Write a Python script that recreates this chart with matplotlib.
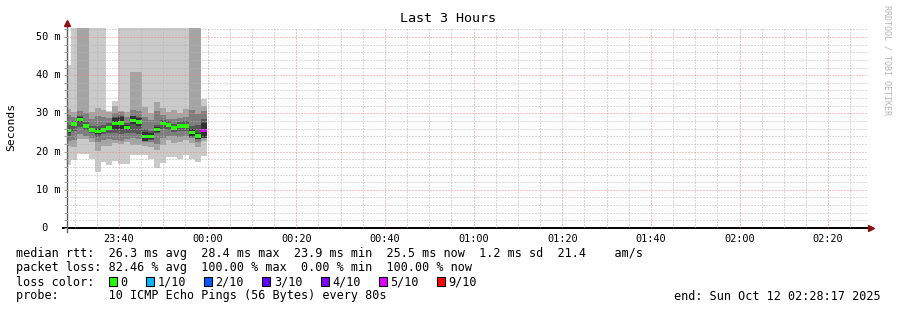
import matplotlib.pyplot as plt
import matplotlib.dates as mdates
import numpy as np
import pandas as pd

# smokeping graph: 10 pings per 80 s step, sorted lowest (p0) to highest (p9), in ms
p0 = [16.5, 17.8, 19.4, 19.4, 18.0, 14.7, 17.2, 16.6, 17.6, 16.8, 16.8, 19.1,
      19.1, 19.1, 18.1, 15.8, 17.1, 18.7, 18.5, 18.1, 19.2, 18.0, 17.3, 18.9]
p1 = [21.5, 21.3, 23.2, 23.2, 22.6, 20.2, 21.5, 21.5, 22.2, 22.0, 22.4, 21.8,
      21.8, 21.5, 21.3, 20.5, 21.8, 23.1, 22.2, 22.4, 23.1, 22.2, 21.3, 22.8]
p2 = [22.8, 23.0, 24.5, 24.2, 23.5, 22.5, 23.0, 23.2, 23.0, 22.8, 23.3, 23.5,
      23.2, 22.5, 22.4, 22.0, 23.5, 24.2, 24.0, 23.8, 24.2, 23.5, 22.5, 24.0]
p3 = [24.0, 25.5, 26.5, 25.6, 25.0, 23.8, 24.5, 24.8, 24.8, 24.5, 25.0, 25.0,
      24.5, 23.0, 23.0, 24.8, 25.8, 25.6, 25.2, 25.4, 25.3, 23.8, 23.2, 24.0]
p4 = [25.0, 26.6, 27.8, 26.2, 25.4, 24.6, 25.2, 25.6, 26.0, 26.0, 25.6, 27.2,
      26.6, 22.8, 23.2, 25.1, 27.0, 26.5, 25.8, 26.2, 26.2, 24.2, 23.4, 23.5]
p5 = [26.0, 27.8, 29.0, 27.2, 26.0, 25.8, 26.2, 26.8, 28.8, 29.0, 27.0, 29.2,
      28.8, 25.2, 24.8, 26.5, 27.8, 27.5, 26.6, 27.2, 27.2, 25.8, 24.8, 27.5]
p6 = [27.0, 28.0, 29.4, 27.8, 26.8, 26.8, 27.0, 27.5, 29.0, 29.3, 27.5, 29.4,
      29.0, 26.0, 25.5, 27.0, 28.4, 28.0, 27.2, 27.8, 28.0, 26.6, 27.0, 28.5]
p7 = [29.5, 29.0, 30.5, 30.0, 28.6, 29.2, 29.0, 28.8, 30.0, 30.3, 29.0, 31.0,
      30.5, 29.0, 28.2, 30.5, 29.5, 28.5, 28.6, 28.8, 29.0, 30.8, 29.8, 30.5]
p8 = [31.1, 30.4, 60.0, 60.0, 30.3, 31.4, 30.9, 30.4, 31.9, 30.6, 30.4, 40.9,
      40.9, 31.8, 30.2, 33.1, 31.4, 30.3, 30.9, 30.0, 31.1, 60.0, 60.0, 32.0]
p9 = [42.7, 60.0, 60.0, 60.0, 60.0, 60.0, 60.0, 30.6, 33.3, 60.0, 60.0, 60.0,
      60.0, 60.0, 60.0, 60.0, 60.0, 60.0, 60.0, 60.0, 60.0, 60.0, 60.0, 33.8]
median = [25.5, 27.2, 28.4, 26.7, 25.7, 25.2, 25.7, 26.2, 27.4, 27.5, 26.3, 28.2,
          27.7, 24.0, 24.0, 25.8, 27.4, 27.0, 26.2, 26.7, 26.7, 25.0, 24.1, 25.5]
lost = [0] * 23 + [5]

start = pd.Timestamp('2025-10-11 23:28:17')
end = pd.Timestamp('2025-10-12 02:28:17')
first_step = pd.Timestamp('2025-10-11 23:29:11')

loss_labels = ['0', '1/10', '2/10', '3/10', '4/10', '5/10', '9/10']
loss_keys = [0, 1, 2, 3, 4, 5, 9]
loss_colors = ['#26ff00', '#00b8ff', '#0059ff', '#5e00ff', '#7e00ff', '#dd00ff', '#ff0000']
smoke_colors = ['#cacaca', '#a4a4a4', '#7e7e7e', '#585858', '#323232']

legend_lines = [
    'median rtt:  26.3 ms avg  28.4 ms max  23.9 ms min  25.5 ms now  1.2 ms sd  21.4    am/s',
    'packet loss: 82.46 % avg  100.00 % max  0.00 % min  100.00 % now',
]
probe_text = 'probe:       10 ICMP Echo Pings (56 Bytes) every 80s'
end_text = 'end: Sun Oct 12 02:28:17 2025'

W, H = 897, 310
MONO = 'DejaVu Sans Mono'


def fx(px):
    return px / W


def fy(py):
    return 1 - py / H


fig = plt.figure(figsize=(W / 100, H / 100), dpi=100)
fig.patch.set_facecolor('white')
ax = fig.add_axes([fx(67), fy(228), 801 / W, 200 / H])

edges = [start] + list(pd.date_range(first_step, periods=len(median), freq='80s'))
edges = mdates.date2num(edges)

# smoke: nested bands, lightest outside, darkest around the median
lows = [p0, p1, p2, p3, p4]
highs = [p9, p8, p7, p6, p5]
for lo, hi, c in zip(lows, highs, smoke_colors):
    ax.stairs(hi, edges, baseline=lo, fill=True, color=c, lw=0)

# median bars coloured by loss
med = np.array(median)
col_for = dict(zip(loss_keys, loss_colors))
ax.bar(edges[:-1], 0.9, width=np.diff(edges), bottom=med - 0.45, align='edge',
       color=[col_for[k] for k in lost], edgecolor='none', lw=0)

ax.set_xlim(mdates.date2num(start), mdates.date2num(end + pd.Timedelta(seconds=42)))
ax.set_ylim(0, 52.36)

ax.xaxis.set_major_locator(mdates.MinuteLocator(byminute=[0, 20, 40]))
ax.xaxis.set_minor_locator(mdates.MinuteLocator(byminute=range(0, 60, 5)))
ax.xaxis.set_major_formatter(mdates.DateFormatter('%H:%M'))
ax.set_yticks(range(0, 51, 10))
ax.set_yticks(range(0, 53, 2), minor=True)
ax.set_yticklabels([])

ax.set_axisbelow(False)
ax.grid(which='minor', color='#b4b4b4', linestyle=(0, (1, 2)), lw=0.72)
ax.grid(which='major', color='#ea8a8a', linestyle=(0, (1, 2)), lw=0.72)
for s in ax.spines.values():
    s.set_visible(False)
ax.tick_params(axis='x', which='both', length=0, pad=4, labelsize=7.4)
ax.tick_params(axis='y', which='both', length=2, width=0.7, color='#a0a0a0', direction='out')
for lab in ax.get_xticklabels():
    lab.set_family(MONO)

ylabels = [' 0', '10 m', '20 m', '30 m', '40 m', '50 m']
ylab_trans = ax.get_yaxis_transform().__class__(fig.transFigure, ax.transData)
for v, t in zip(range(0, 51, 10), ylabels):
    ax.text(fx(36), v, t, transform=ylab_trans, ha='left', va='center', fontsize=7.4, family=MONO)

# axes lines with arrows
ax.plot([-4 / 801, 1.0], [0, 0], transform=ax.transAxes, color='black', lw=1.4, clip_on=False)
ax.plot([0, 0], [-4 / 200, 1.02], transform=ax.transAxes, color='#606060', lw=1.0, clip_on=False)
ax.plot([1.004], [0], transform=ax.transAxes, marker='>', color='#8b1010', ms=4, clip_on=False)
ax.plot([0], [1.027], transform=ax.transAxes, marker='^', color='#8b1010', ms=4, clip_on=False)

fig.text(fx(448), fy(19), 'Last 3 Hours', ha='center', va='center', fontsize=9.6, family=MONO)
fig.text(fx(11), fy(127), 'Seconds', ha='center', va='center', rotation=90, fontsize=8.2, family=MONO)
fig.text(fx(887), fy(5), 'RRDTOOL / TOBI OETIKER', ha='center', va='top', rotation=270,
         fontsize=6, color='#b4b4b4', family=MONO)

cw = 7.1
for i, line in enumerate(legend_lines):
    fig.text(fx(16), fy(254 + 14 * i), line, ha='left', va='center', fontsize=8.5, family=MONO)

fig.text(fx(16), fy(282), 'loss color:', ha='left', va='center', fontsize=8.5, family=MONO)
x = 109
for lab, c in zip(loss_labels, loss_colors):
    fig.patches.append(plt.Rectangle((fx(x), fy(286)), 8 / W, 9 / H, transform=fig.transFigure,
                                     facecolor=c, edgecolor='black', lw=0.8))
    fig.text(fx(x + 11.5), fy(282), lab, ha='left', va='center', fontsize=8.5, family=MONO)
    x += 29.8 + len(lab) * cw

fig.text(fx(16), fy(296), probe_text, ha='left', va='center', fontsize=8.5, family=MONO)
fig.text(fx(881), fy(296), end_text, ha='right', va='center', fontsize=8.5, family=MONO)

fig.savefig('out.png', dpi=100)
